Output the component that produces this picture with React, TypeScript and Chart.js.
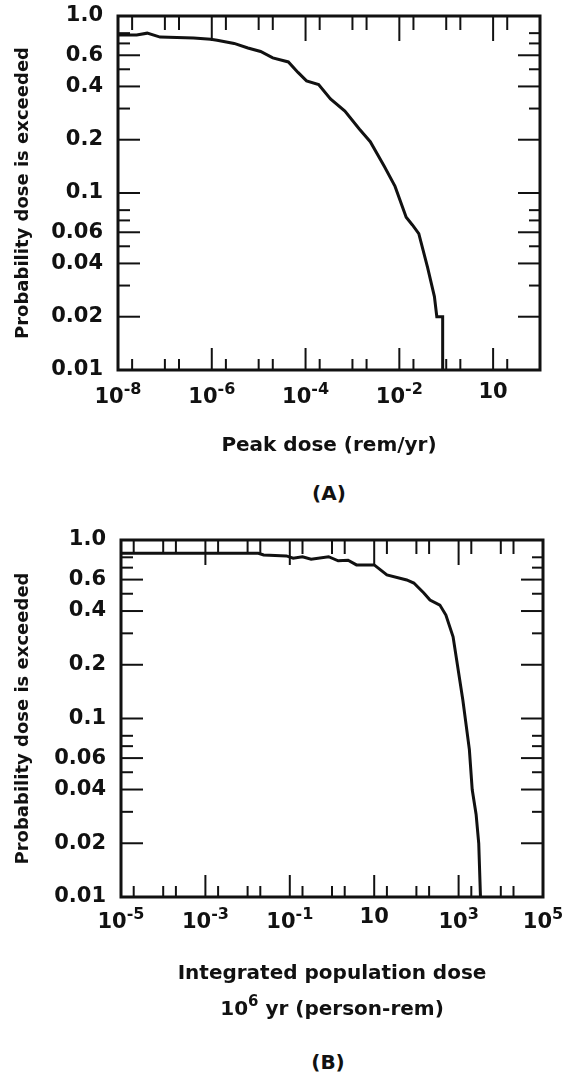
import React, { useEffect, useRef } from 'react';
import { Chart, registerables } from 'chart.js';

Chart.register(...registerables);

const FONT = '"DejaVu Sans", "Liberation Sans", sans-serif';

// ---------- Panel A: peak dose ----------
const peakDose = [1e-8, 2.5e-8, 4.2e-8, 7.9e-8, 4.1e-7, 9.5e-7, 1.3e-6, 3.0e-6, 5.9e-6, 1.1e-5, 2.0e-5, 4.3e-5, 6.9e-5, 1.05e-4, 1.9e-4, 3.4e-4, 6.9e-4, 1.4e-3, 2.4e-3, 4.8e-3, 8.1e-3, 1.4e-2, 1.9e-2, 2.6e-2, 4.0e-2, 5.6e-2, 6.3e-2, 8.4e-2, 8.4e-2];
const peakProb = [0.78, 0.78, 0.8, 0.76, 0.75, 0.74, 0.73, 0.7, 0.66, 0.63, 0.58, 0.55, 0.48, 0.43, 0.41, 0.34, 0.29, 0.23, 0.195, 0.141, 0.109, 0.073, 0.066, 0.059, 0.038, 0.026, 0.02, 0.02, 0.01];
const peakTickValues = [1e-8, 1e-6, 1e-4, 1e-2, 1];
const peakTickBases = ['10', '10', '10', '10', '10'];
const peakTickExps = ['-8', '-6', '-4', '-2', ''];
const peakMajor = [1e-6, 1e-4, 1e-2, 1];
const peakMinor = [2e-8, 1e-7, 2e-7, 2e-6, 1e-5, 2e-5, 2e-4, 1e-3, 2e-3, 2e-2, 1e-1, 2e-1, 2];
const peakTitle = [[{ t: 'Peak dose (rem/yr)' }]];

// ---------- Panel B: integrated population dose ----------
const popDose = [1e-5, 2.0e-3, 1.8e-2, 2.4e-2, 8.3e-2, 0.12, 0.2, 0.32, 0.83, 1.4, 2.4, 3.8, 10, 20, 59, 87, 150, 210, 360, 500, 740, 1260, 1800, 2100, 2600, 3000, 3300];
const popProb = [0.842, 0.842, 0.842, 0.824, 0.814, 0.79, 0.806, 0.78, 0.806, 0.765, 0.77, 0.725, 0.725, 0.637, 0.597, 0.574, 0.505, 0.461, 0.432, 0.38, 0.287, 0.127, 0.067, 0.04, 0.029, 0.02, 0.01];
const popTickValues = [1e-5, 1e-3, 1e-1, 10, 1e3, 1e5];
const popTickBases = ['10', '10', '10', '10', '10', '10'];
const popTickExps = ['-5', '-3', '-1', '', '3', '5'];
const popMajor = [1e-3, 1e-1, 10, 1e3];
const popMinor = [2e-5, 1e-4, 2e-4, 2e-3, 1e-2, 2e-2, 2e-1, 1, 2, 20, 100, 200, 2e3, 1e4, 2e4];
const popTitle = [
  [{ t: 'Integrated population dose' }],
  [{ t: '10' }, { t: '6', sup: true }, { t: ' yr (person-rem)' }],
];

// ---------- shared probability axis ----------
const probTickValues = [0.01, 0.02, 0.04, 0.06, 0.1, 0.2, 0.4, 0.6, 1];
const probTickLabels = ['0.01', '0.02', '0.04', '0.06', '0.1', '0.2', '0.4', '0.6', '1.0'];
const probMajor = [0.6, 0.4, 0.2, 0.1, 0.06, 0.04, 0.02];
const probMinor = [0.8, 0.7, 0.5, 0.3, 0.08, 0.07, 0.05, 0.03];
const yTitle = 'Probability dose is exceeded';

type Part = { t: string; sup?: boolean };

const BASE_SIZE = 21;
const SUP_SIZE = 16;

function drawRich(ctx: CanvasRenderingContext2D, parts: Part[], cx: number, cy: number, size: number, supSize: number) {
  const baseFont = `bold ${size}px ${FONT}`;
  const supFont = `bold ${supSize}px ${FONT}`;
  let total = 0;
  const widths = parts.map((p) => {
    ctx.font = p.sup ? supFont : baseFont;
    const w = ctx.measureText(p.t).width;
    total += w;
    return w;
  });
  let x = cx - total / 2;
  ctx.textAlign = 'left';
  ctx.textBaseline = 'middle';
  parts.forEach((p, i) => {
    ctx.font = p.sup ? supFont : baseFont;
    ctx.fillText(p.t, x, p.sup ? cy - size * 0.38 : cy);
    x += widths[i];
  });
}

const frameTicksPlugin = {
  id: 'frameTicks',
  afterDraw(chart: any, _args: any, opts: any) {
    const { ctx, chartArea } = chart;
    const { left, right, top, bottom } = chartArea;
    const sx = chart.scales.x;
    const sy = chart.scales.y;
    ctx.save();
    ctx.strokeStyle = '#111';
    ctx.fillStyle = '#111';
    ctx.lineCap = 'butt';
    ctx.lineWidth = 2;
    const seg = (x1: number, y1: number, x2: number, y2: number) => {
      ctx.beginPath();
      ctx.moveTo(x1, y1);
      ctx.lineTo(x2, y2);
      ctx.stroke();
    };
    opts.xMajor.forEach((v: number) => {
      const p = sx.getPixelForValue(v);
      seg(p, bottom, p, bottom - 22);
      seg(p, top, p, top + 25);
    });
    opts.xMinor.forEach((v: number) => {
      const p = sx.getPixelForValue(v);
      seg(p, bottom, p, bottom - 11);
      seg(p, top, p, top + 14);
    });
    opts.yMajor.forEach((v: number) => {
      const p = sy.getPixelForValue(v);
      seg(left, p, left + 22, p);
      seg(right, p, right - 22, p);
    });
    opts.yMinor.forEach((v: number) => {
      const p = sy.getPixelForValue(v);
      seg(left, p, left + 12, p);
      seg(right, p, right - 11, p);
    });
    ctx.lineWidth = 3;
    ctx.strokeRect(left, top, right - left, bottom - top);

    // x tick labels (base with superscript exponent)
    opts.xTickValues.forEach((v: number, i: number) => {
      const px = sx.getPixelForValue(v);
      const exp = opts.xTickExps[i];
      const parts: Part[] = exp ? [{ t: opts.xTickBases[i] }, { t: exp, sup: true }] : [{ t: opts.xTickBases[i] }];
      const cy = bottom + opts.labelOffset - (exp ? 0 : 5);
      drawRich(ctx, parts, px, cy, BASE_SIZE, SUP_SIZE);
    });
    // x axis title lines
    const cx = (left + right) / 2;
    opts.xTitle.forEach((line: Part[], i: number) => {
      drawRich(ctx, line, cx, bottom + opts.titleOffset + i * opts.titleLineGap, 20, 15);
    });
    ctx.restore();
  },
};

type Panel = {
  xs: number[];
  ys: number[];
  xMin: number;
  xMax: number;
  xTickValues: number[];
  xTickBases: string[];
  xTickExps: string[];
  xMajor: number[];
  xMinor: number[];
  xTitle: Part[][];
  width: number;
  height: number;
  padTop: number;
  padRight: number;
  yAxisWidth: number;
  xAxisHeight: number;
  labelOffset: number;
  titleOffset: number;
  titleLineGap: number;
};

function PanelChart({ p }: { p: Panel }) {
  const ref = useRef<HTMLCanvasElement>(null);
  useEffect(() => {
    if (!ref.current) return;
    const chart = new Chart(ref.current, {
      type: 'line',
      data: {
        datasets: [
          {
            data: p.xs.map((x, i) => ({ x, y: p.ys[i] })),
            borderColor: '#111',
            borderWidth: 3,
            pointRadius: 0,
            tension: 0,
            fill: false,
            clip: false as any,
          },
        ],
      },
      options: {
        animation: false,
        responsive: false,
        devicePixelRatio: 1,
        layout: { padding: { top: p.padTop, right: p.padRight, bottom: 0, left: 0 } },
        plugins: {
          legend: { display: false },
          tooltip: { enabled: false },
          frameTicks: {
            xMajor: p.xMajor,
            xMinor: p.xMinor,
            yMajor: probMajor,
            yMinor: probMinor,
            xTickValues: p.xTickValues,
            xTickBases: p.xTickBases,
            xTickExps: p.xTickExps,
            xTitle: p.xTitle,
            labelOffset: p.labelOffset,
            titleOffset: p.titleOffset,
            titleLineGap: p.titleLineGap,
          },
        } as any,
        scales: {
          x: {
            type: 'logarithmic',
            min: p.xMin,
            max: p.xMax,
            afterBuildTicks: (s: any) => {
              s.ticks = p.xTickValues.map((v) => ({ value: v }));
            },
            afterFit: (s: any) => {
              s.height = p.xAxisHeight;
              s.paddingLeft = 0;
              s.paddingRight = 0;
            },
            grid: { display: false, drawTicks: false },
            border: { display: false },
            ticks: { display: false },
            title: { display: false },
          },
          y: {
            type: 'logarithmic',
            min: 0.01,
            max: 1,
            afterBuildTicks: (s: any) => {
              s.ticks = probTickValues.map((v) => ({ value: v }));
            },
            afterFit: (s: any) => {
              s.width = p.yAxisWidth;
              s.paddingTop = 0;
              s.paddingBottom = 0;
            },
            grid: { display: false, drawTicks: false },
            border: { display: false },
            ticks: {
              autoSkip: false,
              padding: 15,
              color: '#111',
              font: { family: FONT, size: 21, weight: 'bold' },
              callback: (_v: any, i: number) => probTickLabels[i],
            },
            title: {
              display: true,
              text: yTitle,
              color: '#111',
              font: { family: FONT, size: 18, weight: 'bold' },
              padding: { top: 13, bottom: 0 },
            },
          },
        },
      } as any,
      plugins: [frameTicksPlugin],
    });
    return () => chart.destroy();
  }, [p]);
  return <canvas ref={ref} width={p.width} height={p.height} style={{ display: 'block', width: p.width, height: p.height }} />;
}

const panelA: Panel = {
  xs: peakDose,
  ys: peakProb,
  xMin: 1e-8,
  xMax: 10,
  xTickValues: peakTickValues,
  xTickBases: peakTickBases,
  xTickExps: peakTickExps,
  xMajor: peakMajor,
  xMinor: peakMinor,
  xTitle: peakTitle,
  width: 563,
  height: 470,
  padTop: 16,
  padRight: 23,
  yAxisWidth: 118,
  xAxisHeight: 100,
  labelOffset: 28,
  titleOffset: 76,
  titleLineGap: 36,
};

const panelB: Panel = {
  xs: popDose,
  ys: popProb,
  xMin: 1e-5,
  xMax: 1e5,
  xTickValues: popTickValues,
  xTickBases: popTickBases,
  xTickExps: popTickExps,
  xMajor: popMajor,
  xMinor: popMinor,
  xTitle: popTitle,
  width: 563,
  height: 520,
  padTop: 20,
  padRight: 20,
  yAxisWidth: 121,
  xAxisHeight: 143,
  labelOffset: 26,
  titleOffset: 77,
  titleLineGap: 36,
};

const captionStyle: React.CSSProperties = {
  position: 'absolute',
  transform: 'translate(-50%, -50%)',
  fontFamily: FONT,
  fontWeight: 'bold',
  fontSize: 20,
  color: '#111',
  whiteSpace: 'nowrap',
};

export default function App() {
  return (
    <div style={{ position: 'absolute', left: 0, top: 0, width: 563, height: 1074, background: '#fff', overflow: 'hidden' }}>
      <div style={{ position: 'absolute', left: 0, top: 0 }}>
        <PanelChart p={panelA} />
      </div>
      <div style={{ ...captionStyle, left: 329, top: 493 }}>(A)</div>
      <div style={{ position: 'absolute', left: 0, top: 520 }}>
        <PanelChart p={panelB} />
      </div>
      <div style={{ ...captionStyle, left: 328, top: 1062 }}>(B)</div>
    </div>
  );
}
